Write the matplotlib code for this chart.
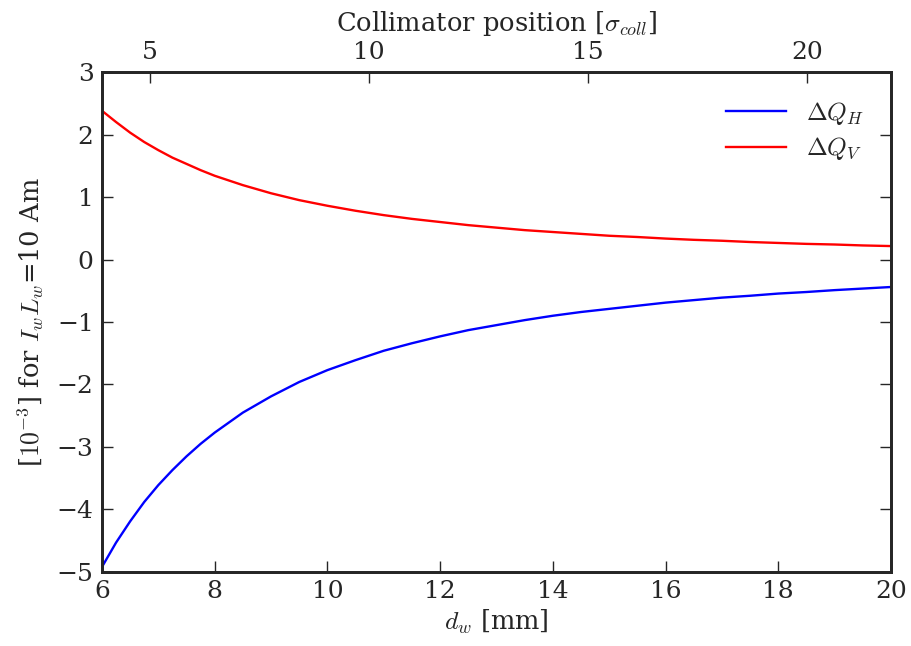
import matplotlib
matplotlib.use("Agg")
import matplotlib.pyplot as plt
import numpy as np

# Wire distance [mm] and tune shifts
d_w = [6, 6.25, 6.5, 6.75, 7, 7.25, 7.5, 7.75, 8, 8.5, 9, 9.5, 10, 10.5, 11,
       11.5, 12, 12.5, 13, 13.5, 14, 14.5, 15, 15.5, 16, 16.5, 17, 17.5, 18,
       18.5, 19, 19.5, 20]
dq_h = [-4.92, -4.53, -4.19, -3.88, -3.61, -3.37, -3.15, -2.95, -2.77, -2.45,
        -2.19, -1.96, -1.77, -1.61, -1.46, -1.34, -1.23, -1.13, -1.05, -0.97,
        -0.90, -0.84, -0.79, -0.74, -0.69, -0.65, -0.61, -0.58, -0.545, -0.52,
        -0.49, -0.465, -0.44]
dq_v = [2.38, 2.20, 2.03, 1.88, 1.75, 1.63, 1.53, 1.43, 1.34, 1.19, 1.06, 0.95,
        0.86, 0.78, 0.71, 0.65, 0.60, 0.55, 0.51, 0.47, 0.44, 0.41, 0.38, 0.36,
        0.335, 0.315, 0.30, 0.28, 0.265, 0.25, 0.24, 0.225, 0.215]

# Top axis range in collimator sigma
sigma_lim = (3.9, 21.92)
sigma_ticks = [5, 10, 15, 20]

dark = "#262626"
plt.rcParams.update({
    "font.family": "DejaVu Serif",
    "mathtext.fontset": "cm",
    "font.size": 18,
    "text.color": dark,
    "axes.labelcolor": dark,
    "axes.edgecolor": dark,
    "xtick.color": dark,
    "ytick.color": dark,
    "xtick.direction": "in",
    "ytick.direction": "in",
    "axes.linewidth": 2,
})

fig = plt.figure(figsize=(9.12, 6.46), dpi=100)
ax = fig.add_axes([0.1118, 0.1146, 0.9770 - 0.1118, 0.8885 - 0.1146])

ax.plot(d_w, dq_h, color="blue", lw=1.7, label=r"$\Delta Q_H$")
ax.plot(d_w, dq_v, color="red", lw=1.7, label=r"$\Delta Q_V$")

ax.set_xlim(6, 20)
ax.set_ylim(-5, 3)
ax.set_xticks(np.arange(6, 21, 2))
ax.set_yticks(np.arange(-5, 4, 1))
ax.tick_params(axis="both", which="major", length=8, width=1, labelsize=18,
               right=True, pad=6)
ax.tick_params(axis="x", top=False)
ax.set_xlabel(r"$d_w$ [mm]", fontsize=18.5, labelpad=3)
ax.set_ylabel(r"[$10^{-3}$] for $I_wL_w$=10 Am", fontsize=18.5, labelpad=8)

ax2 = ax.twiny()
ax2.set_xlim(*sigma_lim)
ax2.set_xticks(sigma_ticks)
ax2.tick_params(axis="x", direction="in", length=8, width=1, labelsize=18, pad=6)
ax2.set_xlabel(r"Collimator position [$\sigma_{coll}$]", fontsize=18.5, labelpad=7)

ax.legend(loc="upper right", frameon=False, fontsize=18, handlelength=2.4,
          borderaxespad=0.7, labelspacing=0.35)

fig.savefig("out.png", dpi=100)
